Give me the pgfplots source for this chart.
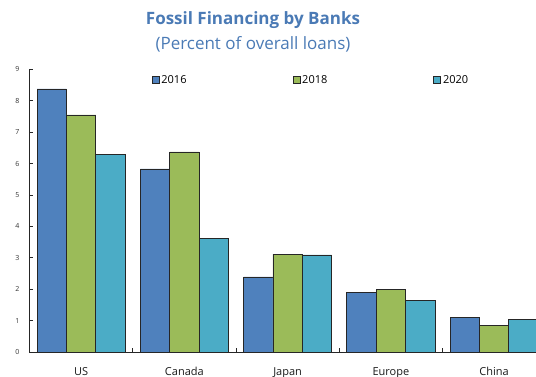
\documentclass[border=0pt]{standalone}
\usepackage{pgfplots}
\pgfplotsset{compat=1.18}
\usepackage{fontspec}
\setmainfont{Open Sans}
\definecolor{c16}{HTML}{4F81BD}
\definecolor{c18}{HTML}{9BBB59}
\definecolor{c20}{HTML}{4BACC6}
\definecolor{ttl}{HTML}{4A7AB5}
\begin{document}
\begin{tikzpicture}
\begin{axis}[
  name=ax, at={(0,0)}, anchor=south west,
  scale only axis, width=516.25bp, height=282.6bp,
  ybar=0pt, bar width=29.4bp,
  xmin=-0.5, xmax=4.5, ymin=0, ymax=9,
  axis x line*=bottom, axis y line*=left,
  axis line style={black!85, line width=0.7bp, -},
  xtick={0,1,2,3,4},
  xticklabels={US,Canada,Japan,Europe,China},
  minor xtick={0.5,1.5,2.5,3.5,4.5},
  ytick={0,1,...,9},
  tick align=inside,
  major tick length=3bp, minor tick length=4bp,
  major x tick style={draw=none},
  minor x tick style={black!85, line width=0.7bp},
  major y tick style={black!85, line width=0.7bp},
  /pgf/number format/assume math mode=true,
  yticklabel style={font=\fontsize{7bp}{8bp}\selectfont, text=black!80, xshift=-6.5bp},
  xticklabel style={font=\fontsize{11bp}{13bp}\selectfont, text=black!90, yshift=-12bp},
  legend columns=3,
  legend style={draw=none, fill=none, at={(0.2363,0.9625)}, anchor=west, inner sep=0pt,
    font=\fontsize{11bp}{13bp}\selectfont,
    /tikz/every even column/.append style={column sep=104bp}},
  legend image code/.code={\draw[#1, draw=black!85, line width=0.7bp] (0bp,-3.5bp) rectangle (7bp,3.5bp);},
  every axis plot/.append style={draw=black!85, line width=0.7bp},
]
\addplot[fill=c16] coordinates {(0,8.38) (1,5.83) (2,2.39) (3,1.90) (4,1.10)};
\addplot[fill=c18] coordinates {(0,7.55) (1,6.37) (2,3.12) (3,1.98) (4,0.85)};
\addplot[fill=c20] coordinates {(0,6.28) (1,3.63) (2,3.09) (3,1.63) (4,1.04)};
\legend{2016,2018,2020}
\end{axis}
\node[text=ttl, font=\fontsize{17bp}{20bp}\selectfont\bfseries] at (223.5bp,332bp) {Fossil Financing by Banks};
\node[text=ttl, font=\fontsize{17bp}{20bp}\selectfont] at (223.5bp,308bp) {(Percent of overall loans)};
\pgfresetboundingbox
\useasboundingbox (-29.5bp,-25bp) rectangle (506.5bp,352bp);
\end{tikzpicture}
\end{document}
